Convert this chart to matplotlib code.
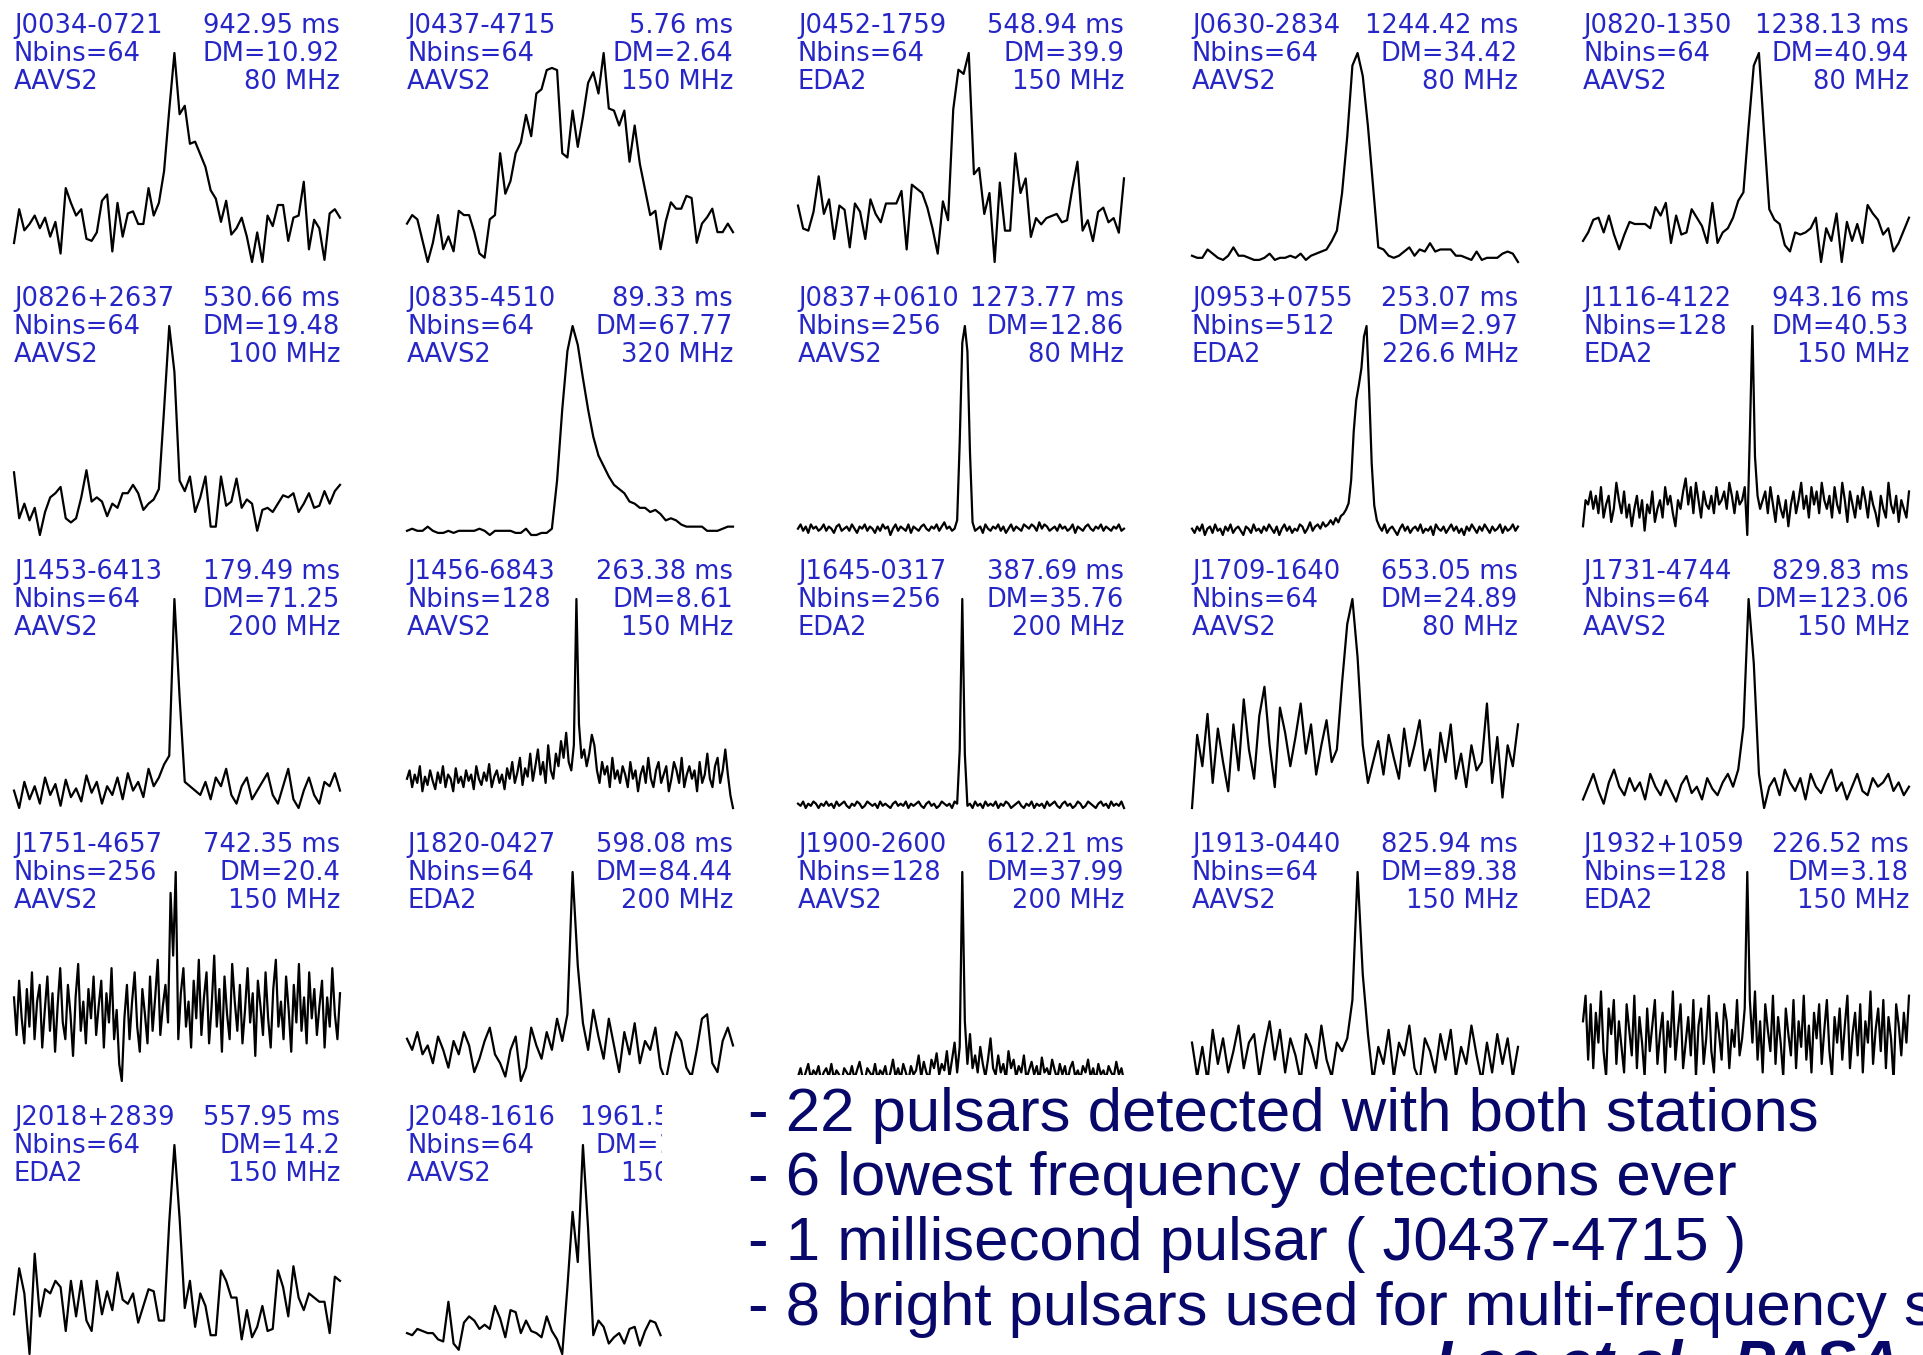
import numpy as np
import matplotlib
matplotlib.use("Agg")
import matplotlib.pyplot as plt
from matplotlib.patches import Rectangle

# pulsar labels
names = ['J0034-0721', 'J0437-4715', 'J0452-1759', 'J0630-2834', 'J0820-1350',
         'J0826+2637', 'J0835-4510', 'J0837+0610', 'J0953+0755', 'J1116-4122',
         'J1453-6413', 'J1456-6843', 'J1645-0317', 'J1709-1640', 'J1731-4744',
         'J1751-4657', 'J1820-0427', 'J1900-2600', 'J1913-0440', 'J1932+1059',
         'J2018+2839', 'J2048-1616']
periods = ['942.95', '5.76', '548.94', '1244.42', '1238.13', '530.66', '89.33', '1273.77',
           '253.07', '943.16', '179.49', '263.38', '387.69', '653.05', '829.83', '742.35',
           '598.08', '612.21', '825.94', '226.52', '557.95', '1961.57']
dms = ['10.92', '2.64', '39.9', '34.42', '40.94', '19.48', '67.77', '12.86', '2.97', '40.53',
       '71.25', '8.61', '35.76', '24.89', '123.06', '20.4', '84.44', '37.99', '89.38', '3.18',
       '14.2', '11.46']
nbins = [64, 64, 64, 64, 64, 64, 64, 256, 512, 128, 64, 128, 256, 64, 64, 256, 64, 128,
         64, 128, 64, 64]
stations = ['AAVS2', 'AAVS2', 'EDA2', 'AAVS2', 'AAVS2', 'AAVS2', 'AAVS2', 'AAVS2', 'EDA2',
            'EDA2', 'AAVS2', 'AAVS2', 'EDA2', 'AAVS2', 'AAVS2', 'AAVS2', 'EDA2', 'AAVS2',
            'AAVS2', 'EDA2', 'EDA2', 'AAVS2']
freqs = ['80', '150', '150', '80', '80', '100', '320', '80', '226.6', '150', '200', '150',
         '200', '80', '150', '150', '200', '200', '150', '150', '150', '150']

# profiles (peak ~ 100)
p_J0034 = [10, 26, 16, 19, 23, 17, 22, 13, 20, 5, 36, 29, 23, 26, 12, 11, 15, 30, 33, 6,
           29, 13, 24, 25, 19, 19, 36, 23, 29, 44, 73, 100, 71, 75, 57, 58, 52, 46, 35, 31,
           20, 30, 14, 17, 22, 13, 1, 15, 1, 23, 18, 28, 28, 11, 22, 23, 39, 7, 21, 17,
           2, 24, 26, 22]
p_J0437 = [19, 23, 21, 11, 1, 10, 23, 7, 13, 6, 25, 23, 23, 15, 5, 3, 21, 23, 52, 33,
           39, 52, 57, 70, 60, 80, 82, 91, 92, 91, 52, 50, 72, 55, 69, 85, 90, 80, 99, 73,
           72, 65, 72, 48, 65, 47, 35, 23, 25, 7, 20, 29, 26, 26, 32, 31, 10, 19, 22, 26,
           15, 15, 19, 15]
p_J0452 = [27, 16, 15, 24, 41, 23, 30, 11, 27, 25, 7, 28, 24, 11, 30, 23, 19, 28, 28, 28,
           34, 6, 37, 35, 33, 26, 16, 4, 29, 20, 73, 92, 90, 100, 42, 45, 23, 33, 0, 38,
           15, 15, 52, 33, 40, 12, 21, 18, 21, 22, 23, 19, 20, 35, 48, 15, 20, 10, 24, 26,
           19, 21, 14, 40]
p_J0630 = [3, 2, 2, 6, 4, 2, 1, 3, 7, 3, 3, 2, 1, 1, 2, 4, 1, 2, 2, 3,
           2, 4, 1, 3, 4, 5, 6, 10, 15, 33, 60, 94, 100, 89, 65, 36, 7, 6, 3, 2,
           3, 5, 7, 3, 6, 5, 9, 5, 6, 6, 6, 3, 3, 2, 1, 5, 1, 2, 2, 2,
           4, 5, 4, 0]
p_J0820 = [11, 15, 21, 22, 15, 23, 14, 7, 14, 20, 19, 19, 19, 17, 27, 23, 29, 10, 23, 14,
           15, 26, 22, 18, 10, 29, 10, 15, 17, 22, 30, 34, 65, 94, 100, 62, 26, 21, 19, 9,
           6, 15, 14, 15, 17, 22, 1, 17, 11, 24, 1, 20, 11, 19, 10, 28, 24, 21, 14, 17,
           6, 10, 16, 22]
p_J0826 = [30, 8, 15, 7, 13, 0, 11, 18, 20, 23, 8, 6, 8, 18, 31, 16, 18, 16, 9, 15,
           13, 20, 20, 24, 20, 12, 15, 17, 22, 60, 100, 78, 26, 21, 28, 11, 18, 28, 4, 4,
           28, 14, 16, 27, 13, 17, 15, 2, 12, 13, 11, 15, 19, 18, 20, 11, 15, 20, 13, 14,
           21, 15, 21, 24]
p_J0835 = [2, 3, 2, 2, 4, 2, 1, 1, 2, 1, 2, 2, 2, 2, 3, 2, 0, 2, 2, 2,
           2, 1, 1, 3, 0, 0, 1, 1, 3, 26, 60, 88, 100, 91, 75, 60, 47, 38, 33, 28,
           24, 22, 20, 16, 15, 13, 13, 11, 12, 10, 7, 8, 7, 5, 4, 4, 4, 4, 2, 2,
           2, 3, 4, 4]
p_J0837 = [4, 6, 3, 5, 2, 6, 4, 5, 3, 4, 6, 3, 5, 4, 2, 5, 6, 3, 4, 5,
           3, 6, 4, 2, 5, 4, 6, 3, 5, 4, 2, 5, 3, 6, 4, 5, 1, 4, 6, 3,
           5, 4, 3, 6, 2, 5, 4, 3, 5, 6, 4, 3, 5, 4, 6, 3, 5, 7, 4, 5,
           3, 4, 8, 45, 92, 100, 88, 40, 7, 3, 4, 5, 2, 6, 4, 3, 5, 4, 6, 3,
           5, 2, 4, 6, 3, 5, 4, 3, 6, 5, 4, 6, 5, 3, 7, 4, 6, 5, 3, 4,
           5, 3, 6, 4, 5, 3, 4, 6, 2, 5, 4, 3, 5, 6, 4, 3, 5, 4, 6, 3,
           5, 4, 3, 5, 4, 6, 3, 4]
p_J0953 = [4, 2, 5, 3, 6, 1, 4, 5, 2, 6, 3, 4, 1, 5, 3, 6, 2, 4, 5, 3,
           1, 5, 4, 2, 6, 3, 4, 2, 5, 3, 6, 4, 2, 5, 1, 4, 6, 3, 5, 2,
           4, 3, 6, 5, 2, 4, 7, 3, 5, 6, 4, 7, 5, 6, 8, 6, 9, 7, 10, 11,
           13, 16, 27, 50, 65, 72, 80, 95, 100, 70, 35, 15, 8, 5, 3, 6, 2, 4, 5, 3,
           1, 4, 6, 3, 5, 2, 4, 5, 3, 6, 2, 4, 3, 5, 1, 6, 4, 3, 5, 2,
           4, 6, 3, 5, 2, 4, 1, 5, 3, 6, 4, 2, 5, 3, 6, 4, 2, 5, 3, 4,
           6, 2, 5, 3, 4, 6, 3, 5]
p_J1116 = [8, 20, 18, 24, 16, 22, 14, 26, 12, 18, 22, 10, 16, 28, 20, 14, 24, 12, 18, 8,
           16, 22, 12, 20, 6, 18, 14, 24, 10, 16, 20, 12, 26, 18, 22, 14, 8, 20, 16, 24,
           30, 18, 26, 14, 28, 20, 12, 24, 18, 16, 22, 14, 26, 18, 20, 24, 16, 28, 22, 14,
           24, 18, 20, 26, 4, 50, 100, 40, 22, 16, 20, 24, 14, 26, 18, 10, 22, 16, 12, 20,
           8, 18, 24, 14, 20, 28, 16, 22, 12, 26, 18, 24, 14, 28, 20, 16, 22, 12, 26, 18,
           14, 28, 20, 10, 24, 18, 12, 22, 16, 26, 20, 12, 24, 18, 14, 8, 22, 16, 12, 28,
           18, 14, 22, 10, 20, 16, 12, 24]
p_J1453 = [12, 4, 16, 8, 14, 6, 18, 10, 15, 5, 17, 9, 13, 7, 19, 11, 16, 6, 14, 10,
           18, 8, 20, 12, 16, 9, 22, 14, 18, 24, 28, 100, 55, 16, 14, 12, 10, 16, 8, 18,
           14, 22, 10, 6, 14, 18, 8, 12, 16, 20, 10, 6, 14, 22, 8, 4, 12, 18, 10, 6,
           16, 14, 20, 12]
p_J1456 = [14, 18, 10, 16, 12, 20, 8, 15, 11, 18, 13, 9, 17, 12, 20, 10, 16, 14, 8, 19,
           12, 15, 10, 18, 13, 16, 9, 20, 14, 11, 17, 13, 21, 10, 15, 18, 12, 16, 9, 19,
           14, 22, 12, 17, 24, 11, 19, 15, 26, 13, 20, 28, 16, 22, 12, 30, 18, 14, 26, 20,
           32, 24, 36, 22, 18, 30, 100, 40, 24, 28, 20, 26, 35, 30, 18, 12, 22, 16, 20, 10,
           24, 14, 18, 12, 20, 16, 10, 22, 14, 18, 8, 16, 20, 12, 24, 14, 10, 18, 22, 12,
           16, 20, 8, 14, 22, 18, 12, 24, 10, 16, 20, 14, 18, 8, 22, 12, 16, 26, 14, 10,
           20, 24, 12, 18, 28, 16, 6, 0]
p_J1645 = [5, 4, 6, 3, 5, 4, 6, 5, 3, 5, 4, 6, 4, 5, 3, 6, 4, 5, 6, 4,
           3, 5, 4, 6, 5, 3, 4, 6, 5, 4, 5, 3, 6, 4, 5, 4, 3, 5, 6, 4,
           5, 4, 6, 3, 5, 4, 5, 6, 4, 3, 5, 6, 4, 5, 3, 4, 6, 5, 4, 5,
           3, 6, 5, 30, 100, 28, 4, 5, 3, 6, 4, 5, 3, 6, 4, 5, 4, 6, 3, 5,
           4, 6, 5, 3, 4, 5, 6, 4, 3, 5, 4, 6, 3, 5, 4, 5, 3, 6, 4, 5,
           6, 4, 3, 5, 6, 4, 5, 3, 4, 6, 5, 3, 4, 6, 5, 4, 3, 5, 6, 4,
           5, 3, 6, 4, 5, 4, 6, 3]
p_J1709 = [0, 35, 20, 45, 12, 38, 22, 8, 40, 18, 52, 28, 14, 44, 58, 30, 10, 48, 36, 20,
           34, 50, 26, 40, 16, 30, 42, 22, 28, 60, 88, 100, 72, 30, 12, 22, 32, 16, 35, 24,
           14, 38, 20, 30, 42, 18, 28, 8, 36, 22, 40, 14, 26, 10, 30, 18, 22, 50, 12, 34,
           5, 30, 20, 40]
p_J1731 = [6, 12, 18, 10, 4, 14, 20, 12, 8, 16, 10, 14, 6, 18, 12, 8, 15, 10, 5, 13,
           17, 9, 12, 6, 16, 11, 8, 14, 18, 12, 20, 40, 100, 70, 18, 2, 12, 16, 8, 20,
           14, 10, 16, 6, 18, 12, 9, 15, 20, 10, 14, 6, 12, 18, 10, 8, 16, 12, 14, 18,
           10, 14, 8, 12]
p_J1751 = [40, 22, 48, 30, 18, 44, 26, 52, 20, 38, 46, 16, 34, 50, 24, 42, 14, 36, 54, 28,
           20, 46, 32, 12, 40, 56, 24, 38, 18, 44, 30, 50, 22, 36, 48, 16, 42, 28, 54, 20,
           34, 8, 0, 30, 46, 20, 38, 52, 26, 14, 44, 32, 18, 50, 24, 40, 58, 22, 36, 46,
           28, 90, 60, 100, 20, 42, 54, 26, 38, 16, 48, 30, 58, 22, 40, 52, 18, 36, 60, 26,
           44, 14, 50, 32, 20, 56, 38, 24, 46, 18, 34, 54, 28, 42, 12, 48, 36, 22, 52, 30,
           16, 44, 58, 26, 38, 20, 50, 34, 14, 46, 28, 56, 24, 40, 18, 52, 30, 44, 22, 36,
           48, 16, 40, 26, 54, 32, 20, 42]
p_J1820 = [25, 20, 28, 18, 22, 14, 26, 20, 12, 24, 18, 28, 22, 10, 16, 24, 30, 18, 14, 8,
           20, 26, 6, 12, 30, 22, 16, 28, 20, 34, 24, 36, 100, 58, 32, 20, 38, 26, 16, 34,
           22, 10, 28, 18, 32, 14, 24, 20, 30, 12, 6, 18, 28, 24, 12, 8, 20, 34, 36, 14,
           10, 24, 30, 22]
p_J1900 = [4, 8, 2, 6, 10, 3, 7, 5, 9, 2, 6, 8, 4, 10, 3, 7, 5, 2, 8, 6,
           4, 9, 3, 7, 11, 5, 2, 8, 6, 4, 10, 3, 7, 5, 9, 2, 6, 12, 4, 8,
           3, 10, 6, 2, 9, 5, 7, 14, 4, 11, 6, 3, 12, 8, 15, 5, 10, 7, 16, 4,
           12, 20, 6, 18, 100, 30, 10, 24, 8, 14, 6, 18, 10, 4, 12, 22, 8, 5, 14, 6,
           10, 3, 16, 8, 12, 4, 9, 6, 14, 3, 7, 11, 5, 9, 2, 13, 6, 8, 4, 12,
           7, 3, 10, 5, 9, 2, 8, 11, 4, 7, 3, 9, 6, 12, 4, 8, 2, 10, 5, 7,
           3, 9, 6, 4, 11, 5, 8, 2]
p_J1913 = [20, 4, 18, 2, 26, 10, 22, 6, 16, 28, 8, 20, 24, 4, 18, 30, 12, 26, 6, 22,
           14, 2, 24, 18, 8, 28, 12, 4, 20, 16, 22, 40, 100, 52, 24, 2, 18, 10, 26, 4,
           20, 14, 28, 8, 2, 22, 16, 6, 24, 12, 26, 4, 18, 10, 28, 14, 2, 20, 6, 24,
           10, 22, 4, 18]
p_J1932 = [30, 42, 12, 38, 8, 34, 20, 44, 16, 4, 36, 24, 40, 10, 30, 18, 6, 38, 26, 14,
           42, 8, 32, 20, 4, 36, 16, 28, 40, 10, 24, 34, 6, 30, 18, 44, 12, 26, 38, 8,
           20, 32, 14, 40, 4, 28, 36, 10, 22, 42, 16, 6, 34, 24, 12, 38, 30, 8, 26, 18,
           40, 14, 22, 36, 100, 40, 20, 44, 12, 30, 6, 38, 26, 16, 42, 10, 32, 20, 4, 36,
           24, 14, 40, 8, 30, 18, 42, 12, 28, 6, 34, 22, 38, 10, 26, 40, 16, 4, 32, 20,
           36, 12, 28, 42, 8, 24, 34, 14, 38, 6, 30, 20, 44, 10, 26, 36, 16, 40, 8, 32,
           22, 2, 38, 28, 14, 34, 20, 42]
p_J2018 = [19, 41, 29, 0, 48, 18, 31, 29, 35, 32, 11, 35, 18, 35, 16, 11, 35, 19, 30, 21,
           39, 26, 24, 29, 15, 23, 31, 30, 16, 16, 63, 100, 65, 22, 35, 13, 29, 23, 9, 9,
           40, 35, 27, 27, 7, 21, 8, 13, 23, 11, 12, 40, 32, 18, 42, 27, 21, 29, 27, 25,
           25, 10, 37, 35]
# only the first 50 bins are visible (rest hidden under the text box)
p_J2048 = [10, 9, 12, 11, 10, 10, 7, 6, 25, 5, 2, 15, 18, 16, 12, 14, 12, 23, 17, 8,
           21, 20, 10, 16, 11, 10, 8, 18, 11, 7, 0, 32, 68, 44, 100, 60, 9, 16, 13, 5,
           8, 10, 5, 12, 13, 4, 11, 16, 15, 9]

profiles = [p_J0034, p_J0437, p_J0452, p_J0630, p_J0820, p_J0826, p_J0835, p_J0837,
            p_J0953, p_J1116, p_J1453, p_J1456, p_J1645, p_J1709, p_J1731, p_J1751,
            p_J1820, p_J1900, p_J1913, p_J1932, p_J2018, p_J2048]

bullets = ['- 22 pulsars detected with both stations',
           '- 6 lowest frequency detections ever',
           '- 1 millisecond pulsar ( J0437-4715 )',
           '- 8 bright pulsars used for multi-frequency studies']
reference = 'Lee et al., PASA'

W, H = 1923, 1355
fig = plt.figure(figsize=(W / 100, H / 100), dpi=100)

label_color = '#2626c6'
col_x = [14, 407, 798, 1192, 1583]
panel_w = 326
row_pitch = 273

for i, prof in enumerate(profiles):
    r, c = divmod(i, 5)
    x0 = col_x[c]
    top = 53 + row_pitch * r
    bot = 262 + row_pitch * r
    ax = fig.add_axes([x0 / W, 1 - bot / H, panel_w / W, (bot - top) / H])
    y = np.array(prof, dtype=float)
    ax.plot(np.arange(len(y)), y, color='black', lw=1.6, clip_on=False)
    if i == len(profiles) - 1:
        ax.set_xlim(0, 63)
    else:
        ax.set_xlim(0, len(y) - 1)
    ax.set_ylim(y.min(), y.max())
    ax.axis('off')

    left_lines = [names[i], f'Nbins={nbins[i]}', stations[i]]
    right_lines = [f'{periods[i]} ms', f'DM={dms[i]}', f'{freqs[i]} MHz']
    for k in range(3):
        yb = 1 - (33 + 28 * k + row_pitch * r) / H
        fig.text(x0 / W, yb, left_lines[k], ha='left', va='baseline',
                 fontsize=18.5, color=label_color, zorder=3)
        fig.text((x0 + panel_w) / W, yb, right_lines[k], ha='right', va='baseline',
                 fontsize=18.5, color=label_color, zorder=3)

# slide text box covering the right part of the last row
fig.patches.append(Rectangle((662 / W, 0), 1 - 662 / W, (H - 1075) / H,
                             transform=fig.transFigure, facecolor='white',
                             edgecolor='none', zorder=5))

navy = '#08086a'
for k, line in enumerate(bullets):
    fig.text(748 / W, 1 - (1131 + 64.5 * k) / H, line, ha='left', va='baseline',
             fontsize=44.5, color=navy, zorder=6,
             family=['Liberation Sans Narrow', 'Liberation Sans', 'DejaVu Sans'])
fig.text(1435 / W, 1 - 1382 / H, reference, ha='left', va='baseline',
         fontsize=44.5, color=navy, zorder=6, fontweight='bold', fontstyle='italic',
         family=['Liberation Sans Narrow', 'Liberation Sans', 'DejaVu Sans'])

fig.savefig('out.png', dpi=100, facecolor='white')
